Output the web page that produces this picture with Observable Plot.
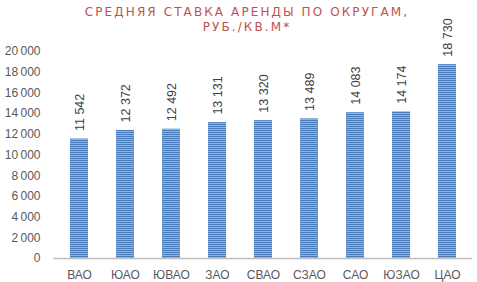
<!DOCTYPE html>
<html><head><meta charset="utf-8">
<script src="https://cdn.jsdelivr.net/npm/d3@7"></script>
<script src="https://cdn.jsdelivr.net/npm/@observablehq/plot@0.6"></script>
<style>
body{margin:0;background:#fff;}
#wrap{position:relative;width:477px;height:282px;}
#title{position:absolute;top:5px;left:0;width:494px;text-align:center;font-family:"DejaVu Sans",sans-serif;font-size:12px;letter-spacing:2.1px;color:#c0504d;line-height:15px;}
svg{position:absolute;top:0;left:0;overflow:visible;}
</style></head>
<body>
<div id="wrap"><div id="title">СРЕДНЯЯ СТАВКА АРЕНДЫ ПО ОКРУГАМ,<br>РУБ./КВ.М*</div></div>
<script>
const districts = ["ВАО","ЮАО","ЮВАО","ЗАО","СВАО","СЗАО","САО","ЮЗАО","ЦАО"];
const rents = [11542,12372,12492,13131,13320,13489,14083,14174,18730];
const yTicks = [0,2000,4000,6000,8000,10000,12000,14000,16000,18000,20000];

const data = districts.map((d,i)=>({district:d, rent:rents[i]}));
const fmt = v => d3.format(",")(v).replace(/,/g, "\u202f");
const fmtLabel = v => d3.format(",")(v).replace(/,/g, "\u00a0");

const chart = Plot.plot({
  width: 477,
  height: 282,
  marginTop: 51,
  marginBottom: 24,
  marginLeft: 53,
  marginRight: 5,
  style: {fontFamily: "'Liberation Sans', Arial, sans-serif", fontSize: "12px", color: "#595959", background: "transparent"},
  x: {domain: districts, paddingInner: 0.61, paddingOuter: 0.305, align: 0.5, label: null, tickSize: 0, tickPadding: 12},
  y: {domain: [0,20000], ticks: yTicks, tickFormat: fmt, label: null, tickSize: 0, tickPadding: 13},
  marks: [
    Plot.barY(data, {x: "district", y: "rent", fill: "url(#stripes)"}),
    Plot.ruleY([0], {stroke: "#bfbfbf", strokeWidth: 1.5}),
    Plot.text(data, {x: "district", y: "rent", text: d => fmtLabel(d.rent), rotate: -90, textAnchor: "start", dy: -8, fill: "#404040", fontSize: 12.5})
  ]
});

const ns = "http://www.w3.org/2000/svg";
const defs = document.createElementNS(ns, "defs");
const pat = document.createElementNS(ns, "pattern");
pat.setAttribute("id","stripes");
pat.setAttribute("patternUnits","userSpaceOnUse");
pat.setAttribute("width","4");
pat.setAttribute("height","2");
const r1 = document.createElementNS(ns,"rect");
r1.setAttribute("width","4"); r1.setAttribute("height","2"); r1.setAttribute("fill","#b4c9e6");
const r2 = document.createElementNS(ns,"rect");
r2.setAttribute("width","4"); r2.setAttribute("height","1.3"); r2.setAttribute("fill","#4a7cbc");
pat.appendChild(r1); pat.appendChild(r2);
defs.appendChild(pat);
chart.insertBefore(defs, chart.firstChild);
document.getElementById("wrap").appendChild(chart);
</script>
</body></html>
